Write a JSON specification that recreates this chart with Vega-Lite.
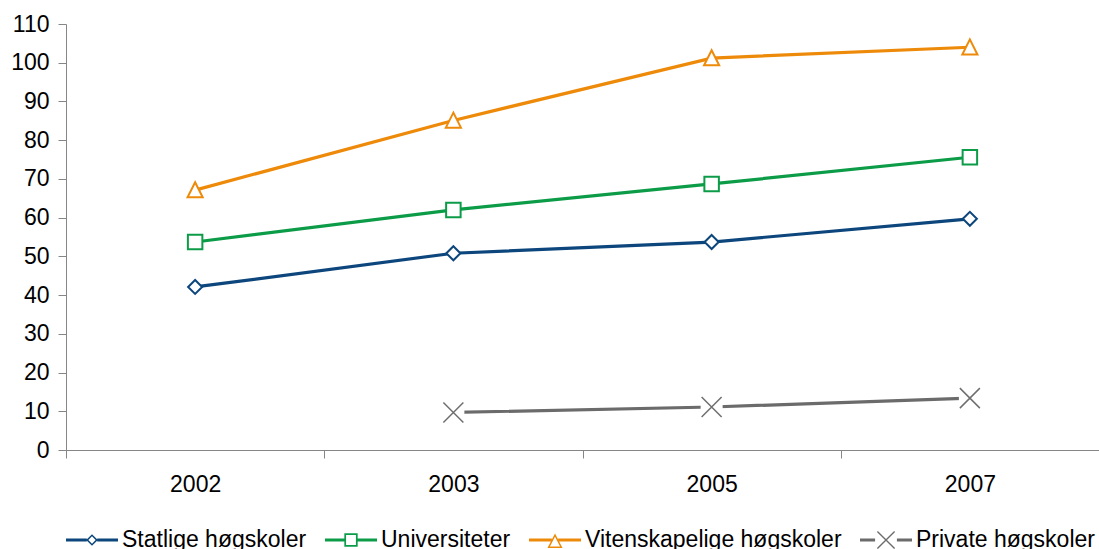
{
  "$schema": "https://vega.github.io/schema/vega-lite/v6.json",
  "width": 1033,
  "height": 426,
  "autosize": {"type": "none"},
  "padding": {"left": 66, "top": 24, "right": 0, "bottom": 99},
  "background": "white",
  "config": {
    "view": {"stroke": null},
    "font": "Liberation Sans",
    "axis": {
      "labelFont": "Liberation Sans",
      "labelFontSize": 23,
      "labelColor": "#000000",
      "domainColor": "#868686",
      "tickColor": "#868686",
      "domainWidth": 1,
      "tickWidth": 1,
      "tickSize": 8,
      "grid": false,
      "title": null
    },
    "legend": {
      "labelFont": "Liberation Sans",
      "labelFontSize": 23,
      "labelColor": "#000000",
      "labelLimit": 500
    }
  },
  "data": {
    "values": [
      {"year": "2002", "series": "Statlige høgskoler", "value": 42.1},
      {"year": "2003", "series": "Statlige høgskoler", "value": 50.8},
      {"year": "2005", "series": "Statlige høgskoler", "value": 53.7},
      {"year": "2007", "series": "Statlige høgskoler", "value": 59.7},
      {"year": "2002", "series": "Universiteter", "value": 53.7},
      {"year": "2003", "series": "Universiteter", "value": 62.0},
      {"year": "2005", "series": "Universiteter", "value": 68.7},
      {"year": "2007", "series": "Universiteter", "value": 75.6},
      {"year": "2002", "series": "Vitenskapelige høgskoler", "value": 67.1},
      {"year": "2003", "series": "Vitenskapelige høgskoler", "value": 85.1},
      {"year": "2005", "series": "Vitenskapelige høgskoler", "value": 101.2},
      {"year": "2007", "series": "Vitenskapelige høgskoler", "value": 104.0},
      {"year": "2003", "series": "Private høgskoler", "value": 9.7},
      {"year": "2005", "series": "Private høgskoler", "value": 11.1},
      {"year": "2007", "series": "Private høgskoler", "value": 13.4}
    ]
  },
  "encoding": {
    "x": {
      "field": "year",
      "type": "ordinal",
      "scale": {"type": "band", "paddingInner": 0, "paddingOuter": 0},
      "axis": {"labelAngle": 0, "tickBand": "extent", "labelPadding": 15}
    },
    "y": {
      "field": "value",
      "type": "quantitative",
      "scale": {"domain": [0, 110], "nice": false},
      "axis": {"values": [0, 10, 20, 30, 40, 50, 60, 70, 80, 90, 100, 110], "labelPadding": 9}
    }
  },
  "layer": [
    {
      "mark": {"type": "point", "filled": true, "opacity": 0, "size": 2704, "strokeWidth": 0},
      "encoding": {
        "color": {
          "field": "series",
          "type": "nominal",
          "scale": {
            "domain": ["Statlige høgskoler", "Universiteter", "Vitenskapelige høgskoler", "Private høgskoler"],
            "range": ["#0c467c", "#0c9c48", "#ee8a0a", "#6b6b6b"]
          },
          "legend": {
            "orient": "bottom",
            "direction": "horizontal",
            "title": null,
            "symbolSize": 2704,
            "symbolStrokeWidth": 0,
            "symbolOpacity": 1,
            "labelOffset": 4,
            "columnPadding": 18,
            "padding": 0,
            "offset": 18,
            "labelLimit": 500,
            "encode": {
              "symbols": {
                "update": {
                  "opacity": {"value": 1},
                  "fillOpacity": {"value": 1},
                  "strokeWidth": {"value": 0}
                }
              }
            }
          }
        },
        "shape": {
          "field": "series",
          "type": "nominal",
          "scale": {
            "domain": ["Statlige høgskoler", "Universiteter", "Vitenskapelige høgskoler", "Private høgskoler"],
            "range": [
              "M-1,-0.058H-0.2V0.058H-1Z M0.2,-0.058H1V0.058H0.2Z M0,-0.225L0.225,0L0,0.225L-0.225,0Z M0,-0.14L-0.14,0L0,0.14L0.14,0Z",
              "M-1,-0.058H-0.24V0.058H-1Z M0.24,-0.058H1V0.058H0.24Z M-0.256,-0.256H0.256V0.256H-0.256Z M-0.19,-0.19V0.19H0.19V-0.19Z",
              "M-1,-0.058H-0.12V0.058H-1Z M0.12,-0.058H1V0.058H0.12Z M0,-0.25L0.29,0.31H-0.29Z M0,-0.124L-0.195,0.252H0.195Z",
              "M-1,-0.058H-0.42V0.058H-1Z M0.42,-0.058H1V0.058H0.42Z M-0.312,-0.348L0.348,0.312L0.312,0.348L-0.348,-0.312Z M-0.348,0.312L0.312,-0.348L0.348,-0.312L-0.312,0.348Z"
            ]
          }
        }
      }
    },
    {
      "mark": {"type": "line", "strokeWidth": 3.2},
      "encoding": {
        "color": {"field": "series", "type": "nominal", "legend": null}
      }
    },
    {
      "transform": [{"filter": "datum.series === 'Private høgskoler'"}],
      "mark": {"type": "point", "shape": "square", "filled": true, "color": "white", "opacity": 1, "size": 484}
    },
    {
      "transform": [{"filter": "datum.series === 'Private høgskoler'"}],
      "mark": {"type": "point", "shape": "M-1,-1L1,1M-1,1L1,-1", "filled": false, "stroke": "#6e6e6e", "strokeWidth": 1.5, "opacity": 1, "size": 400}
    },
    {
      "transform": [{"filter": "datum.series === 'Statlige høgskoler'"}],
      "mark": {"type": "point", "shape": "diamond", "filled": true, "fill": "white", "stroke": "#0c467c", "strokeWidth": 2, "opacity": 1, "size": 196}
    },
    {
      "transform": [{"filter": "datum.series === 'Universiteter'"}],
      "mark": {"type": "point", "shape": "square", "filled": true, "fill": "white", "stroke": "#0c9c48", "strokeWidth": 2, "opacity": 1, "size": 210}
    },
    {
      "transform": [{"filter": "datum.series === 'Vitenskapelige høgskoler'"}],
      "mark": {"type": "point", "shape": "M0,-0.87L0.84,0.8H-0.84Z", "filled": true, "fill": "white", "stroke": "#ee8a0a", "strokeWidth": 2, "opacity": 1, "size": 324}
    }
  ]
}
